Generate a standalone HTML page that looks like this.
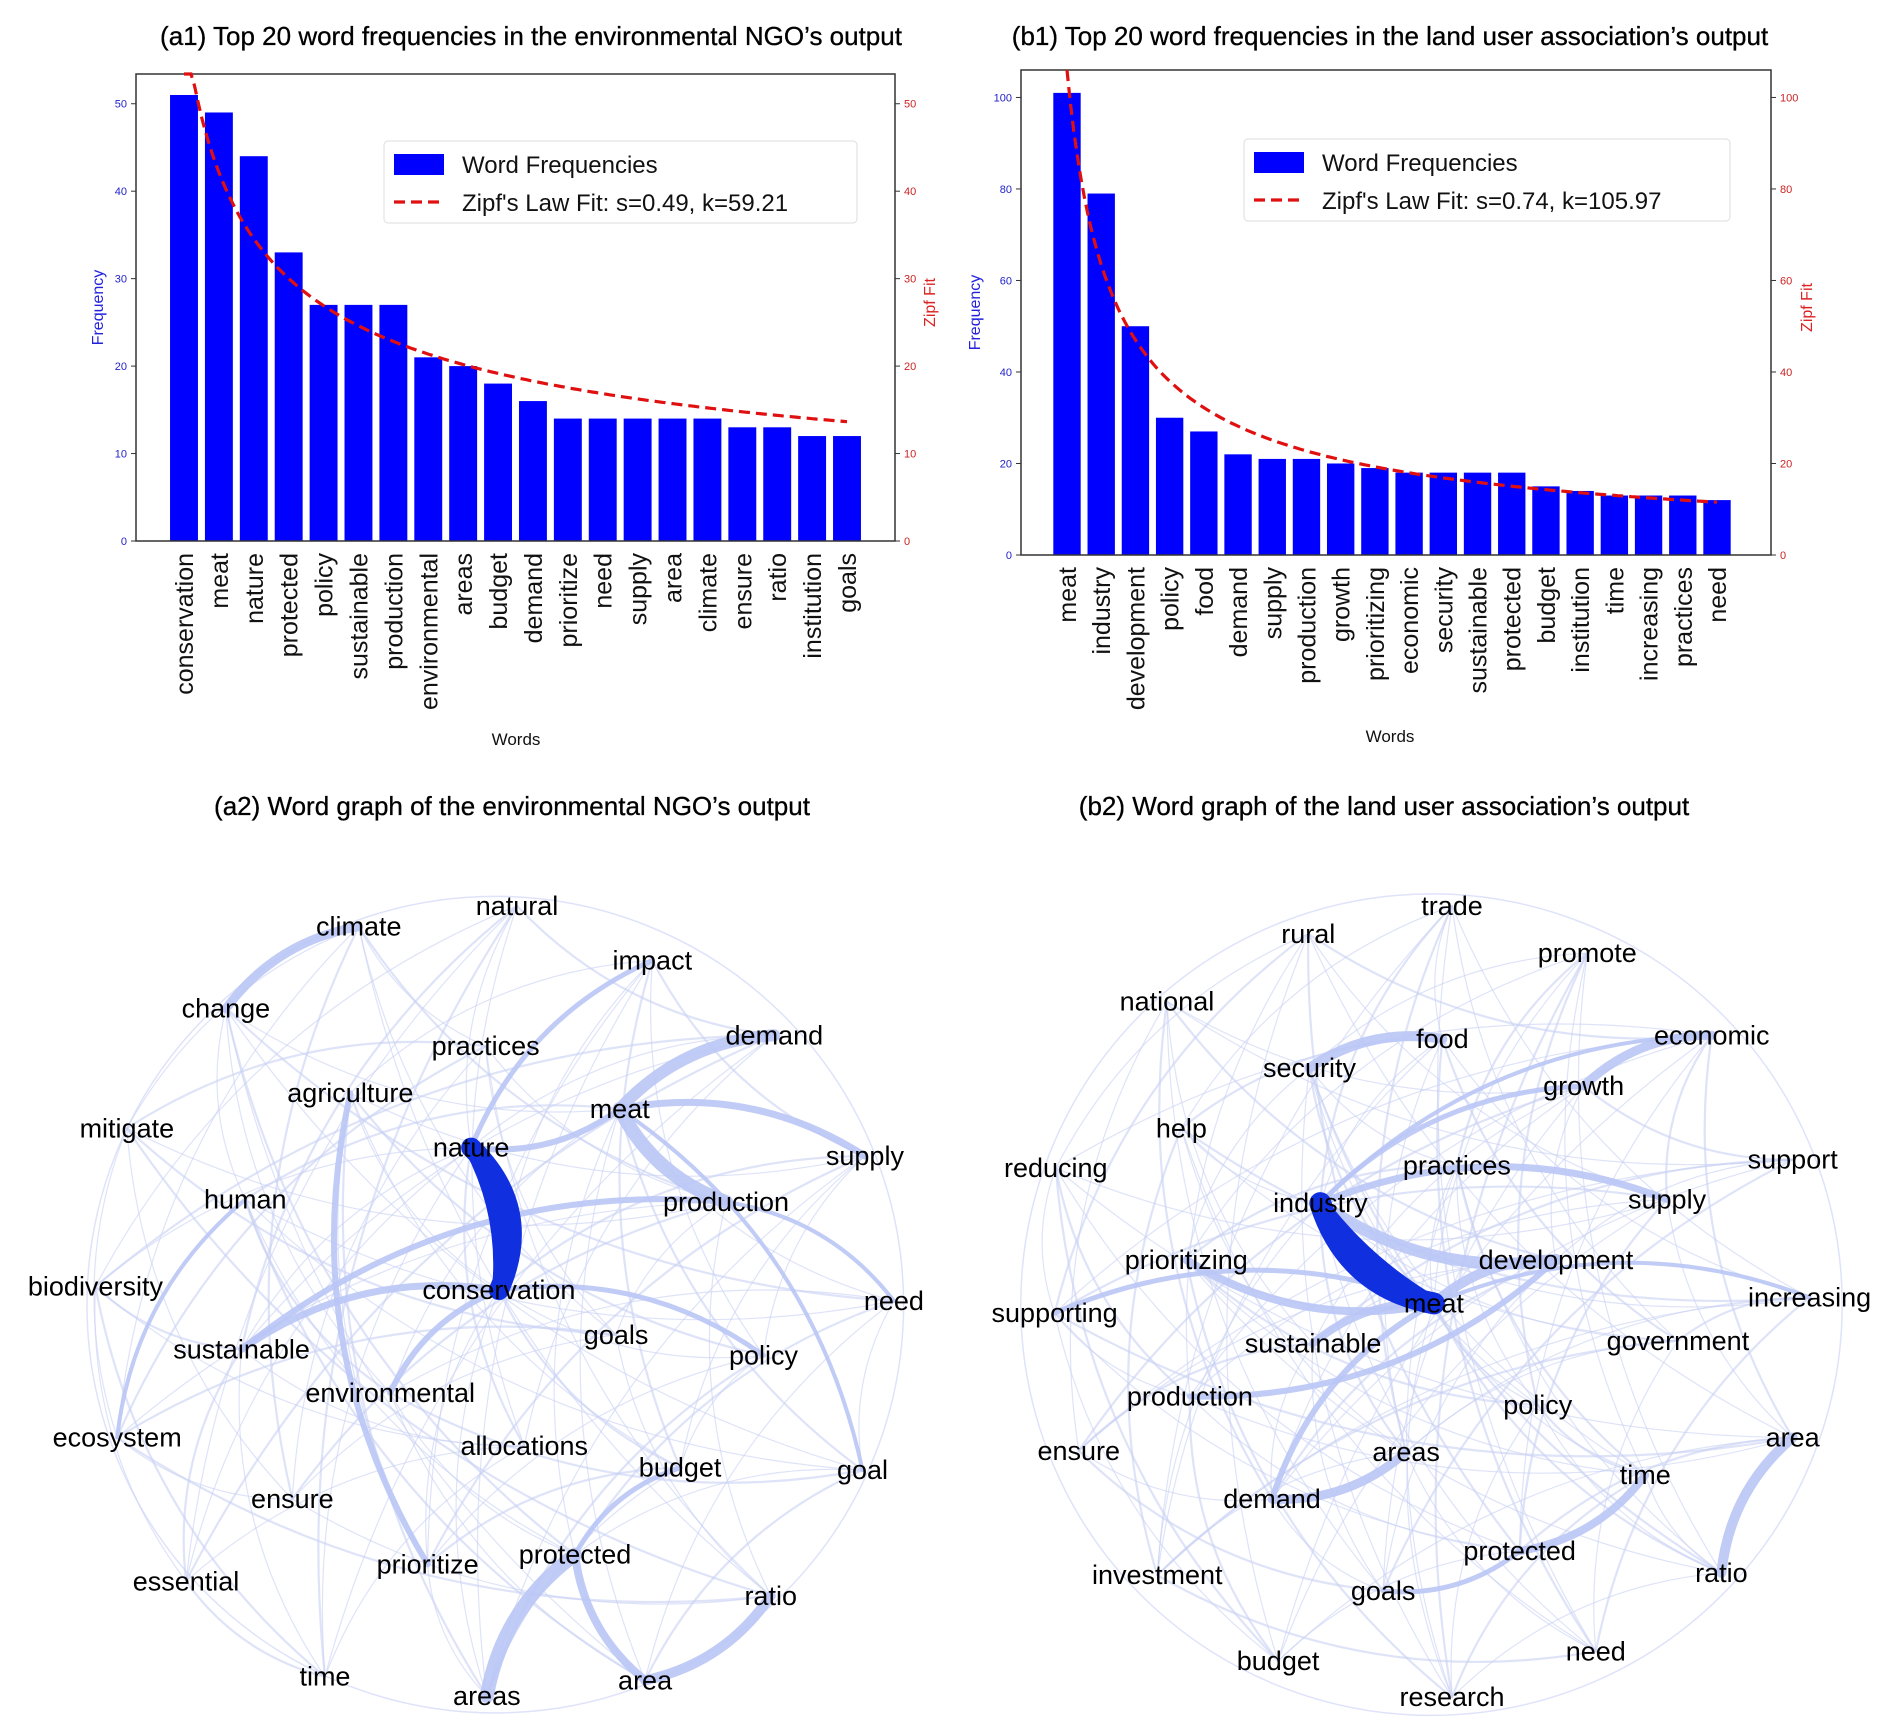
<!DOCTYPE html>
<html><head><meta charset="utf-8">
<style>
html,body{margin:0;padding:0;background:#fff}
svg{display:block}
text{font-family:"Liberation Sans",Arial,sans-serif}
.ttl{font-family:"Liberation Sans",sans-serif;font-size:26px;fill:#000;font-weight:500;stroke:#000;stroke-width:0.3}
</style></head>
<body>
<svg id="root" width="1892" height="1735" viewBox="0 0 1892 1735" xmlns="http://www.w3.org/2000/svg">
<text class="ttl" x="531" y="45" text-anchor="middle">(a1) Top 20 word frequencies in the environmental NGO’s output</text>
<text class="ttl" x="1390" y="45" text-anchor="middle">(b1) Top 20 word frequencies in the land user association’s output</text>
<text class="ttl" x="512" y="815" text-anchor="middle">(a2) Word graph of the environmental NGO’s output</text>
<text class="ttl" x="1384" y="815" text-anchor="middle">(b2) Word graph of the land user association’s output</text>
<g id="chartA"></g>
<g id="chartB"></g>
<g id="graphA"></g>
<g id="graphB"></g>
</svg>
<script>
const NS="http://www.w3.org/2000/svg";
const wordsA=["conservation","meat","nature","protected","policy","sustainable","production","environmental","areas","budget","demand","prioritize","need","supply","area","climate","ensure","ratio","institution","goals"];
const freqA=[51,49,44,33,27,27,27,21,20,18,16,14,14,14,14,14,13,13,12,12];
const zipfA=[0.49,59.21];
const ticksA=[0,10,20,30,40,50];
const wordsB=["meat","industry","development","policy","food","demand","supply","production","growth","prioritizing","economic","security","sustainable","protected","budget","institution","time","increasing","practices","need"];
const freqB=[101,79,50,30,27,22,21,21,20,19,18,18,18,18,15,14,13,13,13,12];
const zipfB=[0.74,105.97];
const ticksB=[0,20,40,60,80,100];

function el(tag,attrs,parent,txt){const e=document.createElementNS(NS,tag);for(const k in attrs)e.setAttribute(k,attrs[k]);if(txt!==undefined)e.textContent=txt;parent.appendChild(e);return e;}

function barChart(g,words,freq,zipf,ticks,cfg){
  const {L,R,T,B,ymax,c0,c1}=cfg;
  const y=v=>B-(v/ymax)*(B-T);
  const step=(c1-c0)/(words.length-1);
  const x=i=>c0+i*step;
  const bw=step*0.8;
  words.forEach((w,i)=>{
    const r=el('rect',{x:x(i)-bw/2,y:y(freq[i]),width:bw,height:B-y(freq[i]),fill:'#0000ff'},g);
    
    
    const t=el('text',{x:0,y:0,transform:`translate(${x(i)+9},${B+12}) rotate(-90)`,'text-anchor':'end','font-size':'25',fill:'#111'},g,w);
    
    
  });
  const f=el('rect',{x:L,y:T,width:R-L,height:B-T,fill:'none',stroke:'#333','stroke-width':1.5},g);
  
  
  ticks.forEach(v=>{
    el('line',{x1:L-5,x2:L,y1:y(v),y2:y(v),stroke:'#333'},g);
    const a=el('text',{x:L-9,y:y(v)+4,'text-anchor':'end','font-size':'11',fill:'#2222cc'},g,v);
    
    
    el('line',{x1:R,x2:R+5,y1:y(v),y2:y(v),stroke:'#333'},g);
    const b=el('text',{x:R+9,y:y(v)+4,'font-size':'11',fill:'#cc2222'},g,v);
    
    
  });
  let d='';
  for(let k=0;k<=190;k++){const r=1+k*(words.length-1)/190;let v=zipf[1]/Math.pow(r,zipf[0]);let yy=Math.max(T,y(v));d+=(k?'L':'M')+x(r-1).toFixed(1)+','+yy.toFixed(1);}
  const p=el('path',{d:d,fill:'none',stroke:'#e01010','stroke-width':3.2,'stroke-dasharray':'11,6'},g);
  
  
  const yl=el('text',{transform:`translate(${cfg.fx},${(T+B)/2}) rotate(-90)`,'text-anchor':'middle','font-size':'16',fill:'#2222dd'},g,'Frequency');
  
  
  const zl=el('text',{transform:`translate(${cfg.zx},${(T+B)/2-5}) rotate(-90)`,'text-anchor':'middle','font-size':'16',fill:'#dd2222'},g,'Zipf Fit');
  
  
  const xl=el('text',{x:cfg.wx,y:cfg.wy,'text-anchor':'middle','font-size':'17',fill:'#111'},g,'Words');
  
  
  const lg=el('g',{},g);
  
  
  const [lx,ly,lw,lh]=cfg.leg;
  el('rect',{x:lx,y:ly,width:lw,height:lh,rx:4,fill:'#fff',stroke:'#ddd'},lg);
  el('rect',{x:lx+10,y:ly+13,width:50,height:21,fill:'#0000ff'},lg);
  el('text',{x:lx+78,y:ly+32,'font-size':'24',fill:'#111'},lg,'Word Frequencies');
  el('line',{x1:lx+10,x2:lx+60,y1:ly+61,y2:ly+61,stroke:'#e01010','stroke-width':3.2,'stroke-dasharray':'11,6'},lg);
  el('text',{x:lx+78,y:ly+70,'font-size':'24',fill:'#111'},lg,`Zipf's Law Fit: s=${zipf[0].toFixed(2)}, k=${zipf[1].toFixed(2)}`);
}
barChart(document.getElementById('chartA'),wordsA,freqA,zipfA,ticksA,{L:136,R:895,T:74,B:541,ymax:53.4,c0:184,c1:847,fx:103,zx:935,wx:516,wy:745,leg:[384,141,473,82]});
barChart(document.getElementById('chartB'),wordsB,freqB,zipfB,ticksB,{L:1021,R:1771,T:70,B:555,ymax:106,c0:1067,c1:1717,fx:980,zx:1812,wx:1390,wy:742,leg:[1244,139,486,82]});

const S=1.208;
const nodesA=[["climate",297,767],["natural",428,750],["impact",540,795],["change",187,835],["practices",402,866],["demand",641,857],["agriculture",290,905],["meat",513,918],["mitigate",105,934],["nature",390,950],["supply",716,957],["human",203,993],["production",601,995],["biodiversity",79,1065],["conservation",413,1068],["need",740,1077],["goals",510,1105],["sustainable",200,1117],["policy",632,1122],["environmental",323,1153],["ecosystem",97,1190],["allocations",434,1197],["budget",563,1215],["goal",714,1217],["ensure",242,1241],["essential",154,1309],["prioritize",354,1295],["protected",476,1287],["ratio",638,1321],["time",269,1388],["areas",403,1404],["area",534,1391]];
const heavyA=[["meat","production",14],["demand","meat",12],["protected","areas",14],["area","ratio",10],["climate","change",9],["conservation","sustainable",7],["conservation","environmental",6],["supply","meat",7],["nature","meat",6],["production","sustainable",6],["protected","area",8],["agriculture","prioritize",6],["policy","conservation",5],["impact","nature",5],["human","ecosystem",4],["budget","protected",5],["need","production",4],["goal","meat",4]];
const nodesB=[["trade",1202,750],["rural",1083,773],["promote",1314,789],["national",966,829],["food",1194,860],["economic",1417,857],["security",1084,884],["growth",1311,899],["help",978,934],["reducing",874,967],["practices",1206,965],["support",1484,960],["industry",1093,996],["supply",1380,993],["prioritizing",982,1043],["development",1288,1043],["increasing",1498,1074],["supporting",873,1087],["meat",1187,1079],["sustainable",1087,1112],["government",1389,1110],["production",985,1156],["policy",1273,1163],["ensure",893,1201],["areas",1164,1202],["area",1484,1190],["time",1362,1221],["demand",1053,1241],["investment",958,1304],["protected",1258,1284],["ratio",1425,1302],["goals",1145,1317],["need",1321,1367],["budget",1058,1375],["research",1202,1405]];
const heavyB=[["industry","development",12],["development","meat",10],["food","security",10],["economic","growth",9],["area","ratio",10],["protected","time",8],["demand","areas",9],["meat","sustainable",8],["supply","industry",7],["prioritizing","meat",8],["production","development",6],["meat","demand",6],["growth","industry",5],["meat","supporting",5],["goals","protected",5],["economic","industry",4],["increasing","meat",4]];

function graph(g,nodes,heavy,dark,cx,cy,rad){
  const pos={};nodes.forEach(n=>pos[n[0]]=[n[1]*S,n[2]*S]);
  const E=el('g',{},g);
  function curve(a,b,w,col,op,bend){
    const [x1,y1]=pos[a],[x2,y2]=pos[b];
    const mx=(x1+x2)/2,my=(y1+y2)/2,dx=x2-x1,dy=y2-y1;
    const qx=mx-dy*bend,qy=my+dx*bend;
    const p=el('path',{d:`M${x1},${y1}Q${qx},${qy} ${x2},${y2}`,fill:'none',stroke:col,'stroke-width':w,'stroke-opacity':op,'stroke-linecap':'round'},E);
    
    
  }
  el('circle',{cx:cx*S,cy:cy*S,r:rad*S,fill:'none',stroke:'#dfe3fa','stroke-width':1.5},E);
  for(let i=0;i<nodes.length;i++)for(let j=i+1;j<nodes.length;j++){
    if((i*7+j*5)%4===0) curve(nodes[i][0],nodes[j][0],(i+j)%3?1.2:2.2,'#c8d0f4',0.6,0.18);
  }
  heavy.forEach(h=>curve(h[0],h[1],h[2],'#b9c5f5',0.9,0.2));
  dark.forEach(h=>curve(h[0],h[1],h[2],'#1030e0',1,h[3]));
  nodes.forEach(n=>{
    const t=el('text',{x:n[1]*S,y:n[2]*S+9,'text-anchor':'middle','font-size':'27',fill:'#000'},g,n[0]);
    
    
  });
}
graph(document.getElementById('graphA'),nodesA,heavyA,[["nature","conservation",20,-0.35],["nature","conservation",14,-0.15]],410,1080,338);
graph(document.getElementById('graphB'),nodesB,heavyB,[["industry","meat",22,0.3],["industry","meat",14,0.1]],1185,1080,340);
</script>
</body></html>
